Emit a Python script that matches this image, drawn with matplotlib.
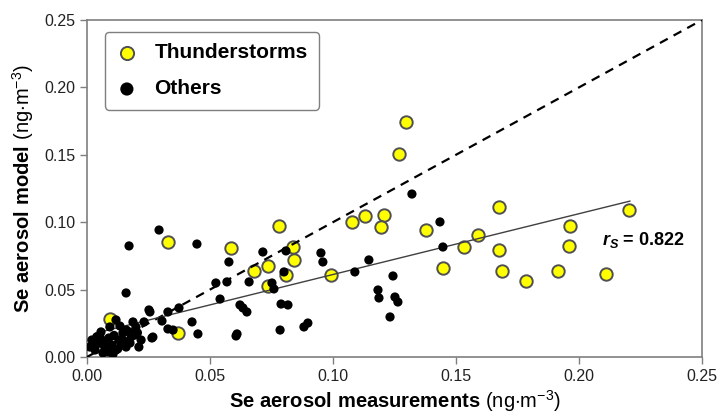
import numpy as np
import matplotlib.pyplot as plt

plt.rcParams['font.family'] = ['Liberation Sans', 'DejaVu Sans']
plt.rcParams['mathtext.fontset'] = 'custom'
plt.rcParams['mathtext.rm'] = 'Liberation Sans'
plt.rcParams['mathtext.bf'] = 'Liberation Sans:bold'
plt.rcParams['mathtext.it'] = 'Liberation Sans:italic:bold'

# Gewitter-Tage (gelb)
storm_x = [0.0093, 0.033, 0.037, 0.0585, 0.068, 0.0736, 0.0736, 0.078, 0.0837, 0.084,
           0.081, 0.0992, 0.1297, 0.1268, 0.1077, 0.113, 0.1207, 0.1195, 0.1378, 0.1447,
           0.1533, 0.159, 0.1675, 0.1675, 0.1687, 0.1785, 0.1915, 0.1963, 0.196, 0.211, 0.2203]
storm_y = [0.028, 0.085, 0.018, 0.081, 0.0638, 0.0675, 0.0527, 0.097, 0.0816, 0.072,
           0.061, 0.0608, 0.1744, 0.1506, 0.1002, 0.1046, 0.1054, 0.0965, 0.0942, 0.066,
           0.0816, 0.0905, 0.1113, 0.0794, 0.0638, 0.0564, 0.0638, 0.0972, 0.0824, 0.0616, 0.109]

# restliche Tage (schwarz)
other_x = [0.0171, 0.0447, 0.0577, 0.0715, 0.0159, 0.0524, 0.0569, 0.0659, 0.0752, 0.0541,
           0.0622, 0.0634, 0.0650, 0.0427, 0.0329, 0.0374, 0.0329, 0.0256, 0.0305, 0.0451,
           0.0610, 0.0606, 0.0785, 0.0264, 0.0350, 0.0293, 0.1321, 0.0809, 0.0951, 0.0959,
           0.1146, 0.1435, 0.1447, 0.0801, 0.0760, 0.1089, 0.1244, 0.1183, 0.1187, 0.1252,
           0.1264, 0.1232, 0.0789, 0.0817, 0.0882, 0.0898, 0.0118,
           0.0252, 0.0232, 0.0268, 0.0057, 0.0199, 0.0171, 0.0220, 0.0211, 0.0049, 0.0077,
           0.0118, 0.0159, 0.0130, 0.0089, 0.0065, 0.0146, 0.0020, 0.0033, 0.0102, 0.0175,
           0.0134, 0.0187, 0.0093, 0.0012, 0.0195, 0.0106, 0.0085, 0.0040, 0.0140, 0.0060,
           0.0110, 0.0150, 0.0070, 0.0125, 0.0180, 0.0095, 0.0030, 0.0160, 0.0205, 0.0055]
other_y = [0.0824, 0.0838, 0.0705, 0.0779, 0.0475, 0.0549, 0.0557, 0.0557, 0.0549, 0.0430,
           0.0386, 0.0364, 0.0334, 0.0260, 0.0208, 0.0364, 0.0334, 0.0334, 0.0267, 0.0171,
           0.0171, 0.0156, 0.0200, 0.0141, 0.0200, 0.0942, 0.1209, 0.0787, 0.0772, 0.0705,
           0.0720, 0.1002, 0.0816, 0.0631, 0.0505, 0.0631, 0.0601, 0.0497, 0.0438, 0.0445,
           0.0408, 0.0297, 0.0393, 0.0386, 0.0223, 0.0252, 0.0275,
           0.0349, 0.0260, 0.0148, 0.0186, 0.0223, 0.0186, 0.0126, 0.0074, 0.0104, 0.0067,
           0.0052, 0.0074, 0.0126, 0.0141, 0.0030, 0.0178, 0.0126, 0.0052, 0.0089, 0.0104,
           0.0230, 0.0260, 0.0223, 0.0074, 0.0163, 0.0022, 0.0037, 0.0150, 0.0090, 0.0100,
           0.0160, 0.0120, 0.0110, 0.0060, 0.0150, 0.0040, 0.0080, 0.0200, 0.0180, 0.0140]

# Regressionsgerade
fit_slope = 0.451
fit_intercept = 0.0161
fit_range = [0.0037, 0.2207]
r_s = 0.822

ticks = [0.00, 0.05, 0.10, 0.15, 0.20, 0.25]

fig = plt.figure(figsize=(7.17, 4.17), dpi=100)
ax = fig.add_axes([0.1213, 0.1439, 0.8577, 0.8081])

ax.scatter(storm_x, storm_y, s=80, c='#ffff00', edgecolors='#505050', linewidths=1.4,
           zorder=2, label='Thunderstorms')
ax.plot([0, 0.25], [0, 0.25], color='black', lw=1.6, dashes=(4, 3), zorder=3)
fx = np.array(fit_range)
ax.plot(fx, fit_slope * fx + fit_intercept, color='#404040', lw=1.0, zorder=3)
ax.scatter(other_x, other_y, s=44, c='black', edgecolors='none', zorder=4, label='Others')

ax.text(0.2093, 0.0868, r'$r_{S}$' + ' = ' + f'{r_s:.3f}', fontsize=13,
        fontweight='bold', ha='left', va='center')

ax.set_xlim(0, 0.25)
ax.set_ylim(0, 0.25)
ax.set_xticks(ticks)
ax.set_yticks(ticks)
ax.set_xticklabels([f'{t:.2f}' for t in ticks])
ax.set_yticklabels([f'{t:.2f}' for t in ticks])
ax.tick_params(direction='out', length=5, width=1, color='#7f7f7f', labelsize=11.5,
               labelcolor='#222222')
for sp in ax.spines.values():
    sp.set_color('#7f7f7f')
    sp.set_linewidth(1.2)

ax.set_xlabel(r'$\mathbf{Se\ aerosol\ measurements}\ \mathrm{(ng{\cdot}m^{-3})}$',
              fontsize=14.5, labelpad=3)
ax.set_ylabel(r'$\mathbf{Se\ aerosol\ model}\ \mathrm{(ng{\cdot}m^{-3})}$',
              fontsize=14.5, labelpad=6)

leg = ax.legend(loc='upper left', bbox_to_anchor=(0.029, 0.964), borderaxespad=0,
                prop={'weight': 'bold', 'size': 15}, frameon=True, fancybox=True,
                edgecolor='#7f7f7f', framealpha=1, handlelength=1.06,
                handletextpad=0.8, labelspacing=0.83, borderpad=0.53)
leg.get_frame().set_linewidth(1.0)
for h in leg.legend_handles:
    h.set_sizes([90])

plt.savefig('out.png', dpi=100)
